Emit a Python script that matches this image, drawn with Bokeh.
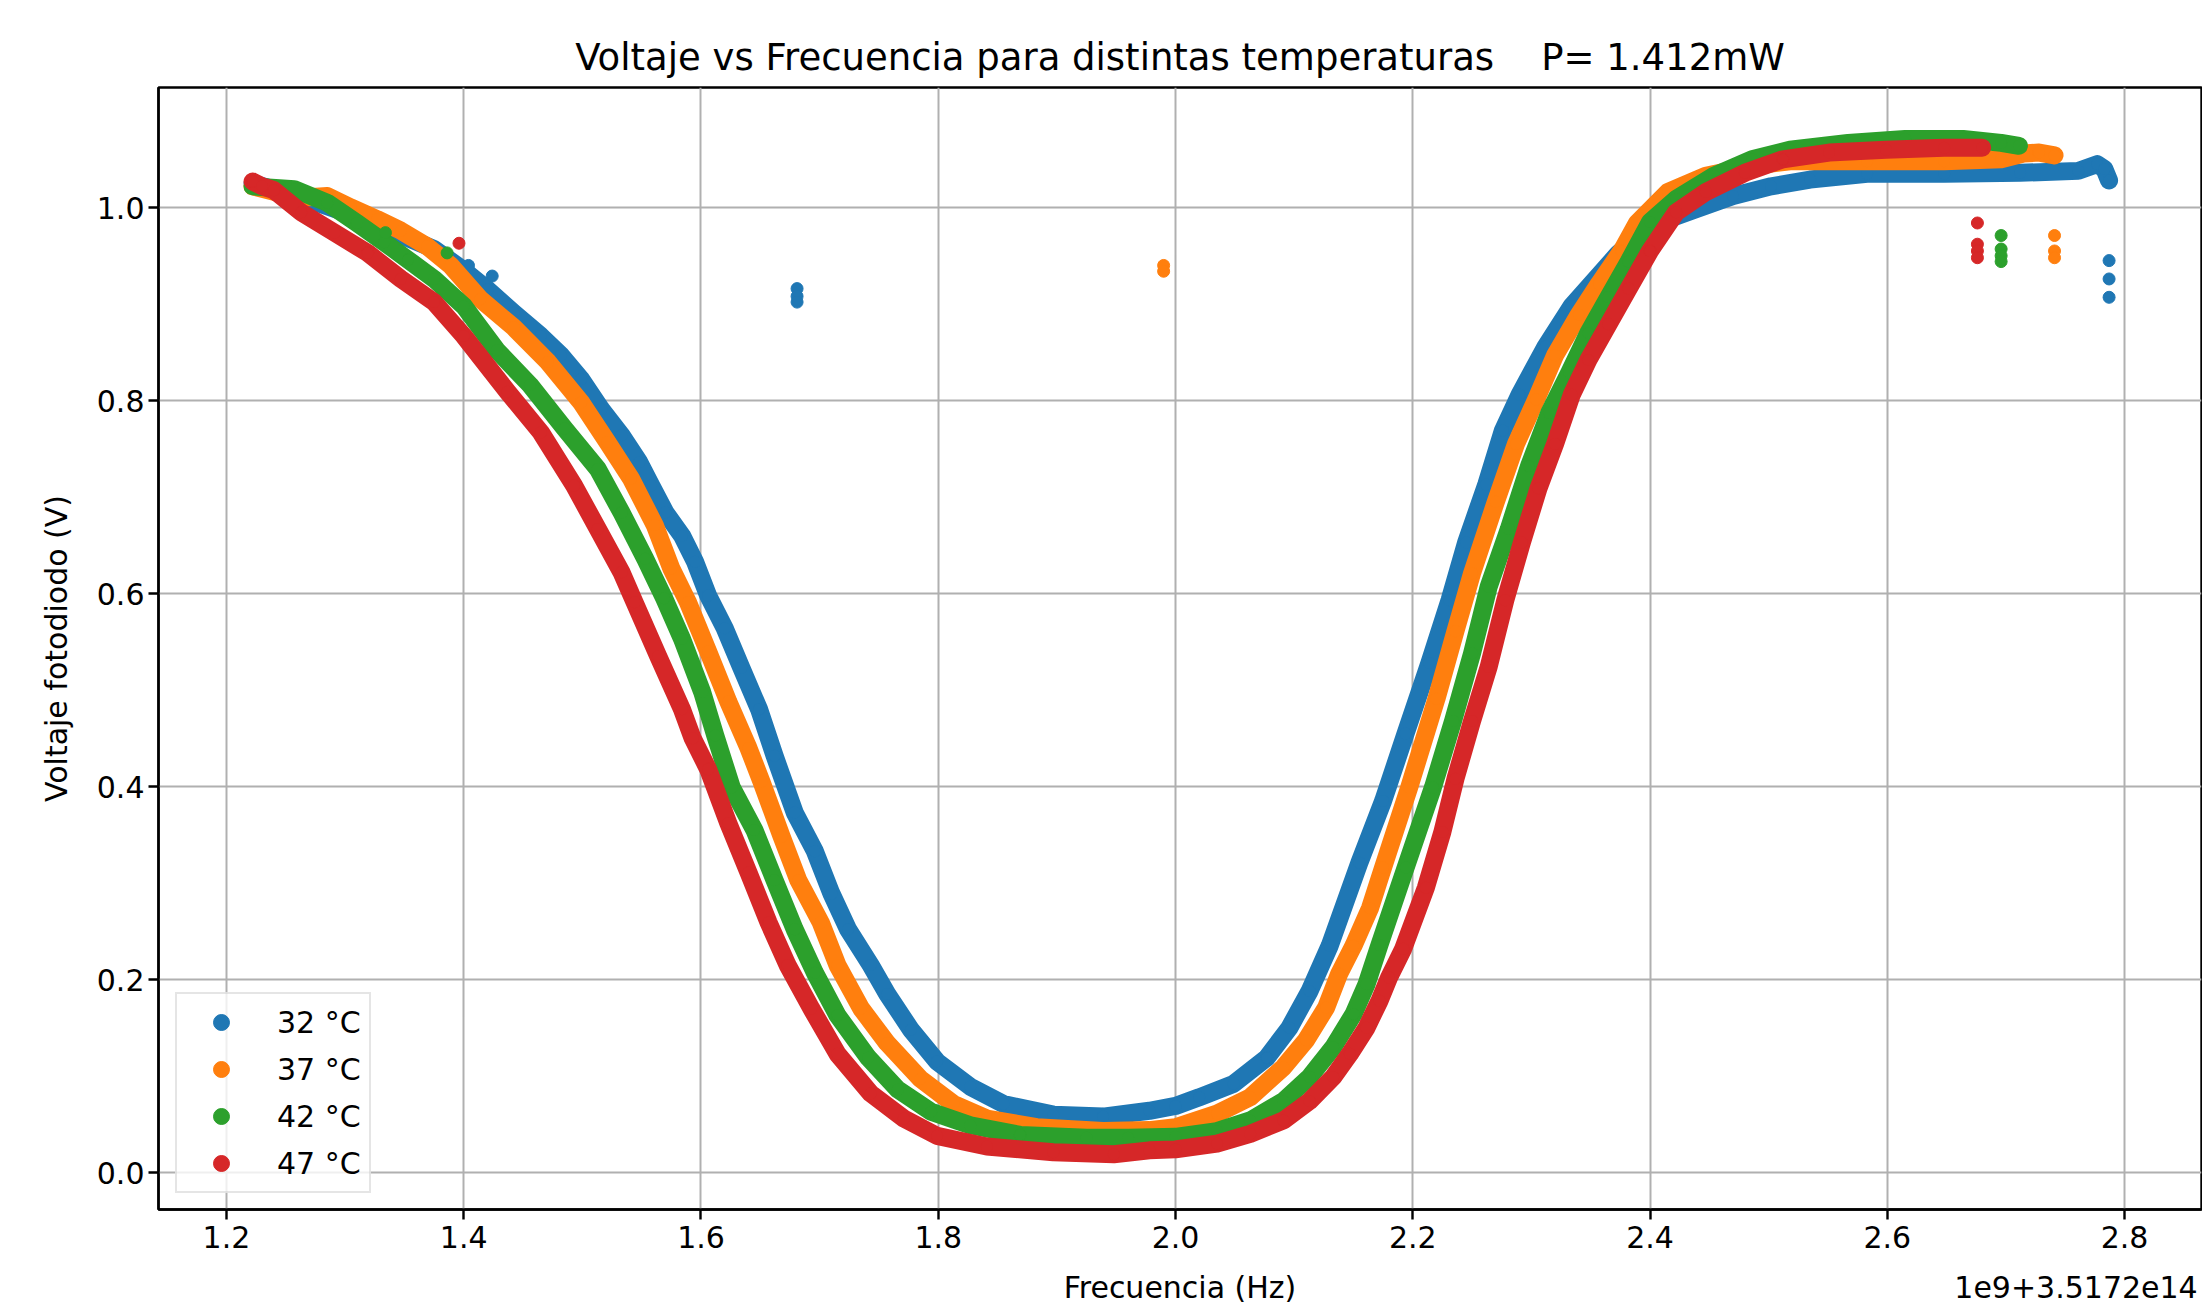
from bokeh.plotting import figure
from bokeh.models import Range1d, FixedTicker, Legend, LegendItem, LinearAxis, NumeralTickFormatter
from bokeh.embed import file_html
from bokeh.resources import INLINE

# ---------------- texts ----------------
title_text = "Voltaje vs Frecuencia para distintas temperaturas" + "\u00a0" * 4 + "P= 1.412mW"
x_label = "Frecuencia (Hz)"
y_label = "Voltaje fotodiodo (V)"
offset_text = "1e9+3.5172e14"
series_labels = ["32 °C", "37 °C", "42 °C", "47 °C"]
x_ticks = [1.2, 1.4, 1.6, 1.8, 2.0, 2.2, 2.4, 2.6, 2.8]
y_ticks = [0.0, 0.2, 0.4, 0.6, 0.8, 1.0]

# ---------------- data (frequency offset from 3.5172e14 Hz, in units of 1e9 Hz) ----------------
f_32 = [1.222, 1.26, 1.30, 1.34, 1.375, 1.40, 1.42, 1.442, 1.465, 1.482, 1.499, 1.516, 1.533, 1.548,
        1.558, 1.570, 1.584, 1.595, 1.606, 1.620, 1.634, 1.649, 1.662, 1.679, 1.696, 1.710, 1.724,
        1.743, 1.757, 1.777, 1.799, 1.827, 1.855, 1.897, 1.939, 1.978, 2.000, 2.020, 2.049, 2.077,
        2.096, 2.113, 2.130, 2.155, 2.175, 2.194, 2.214, 2.231, 2.245, 2.262, 2.276, 2.290, 2.312,
        2.334, 2.357, 2.373, 2.400, 2.438, 2.470, 2.502, 2.535, 2.583, 2.648, 2.712, 2.761, 2.777,
        2.783, 2.787]
v_32 = [1.025, 1.012, 0.995, 0.975, 0.957, 0.935, 0.915, 0.891, 0.867, 0.847, 0.822, 0.791, 0.764, 0.736,
        0.712, 0.684, 0.660, 0.633, 0.598, 0.564, 0.523, 0.480, 0.432, 0.373, 0.333, 0.289, 0.252,
        0.215, 0.185, 0.148, 0.115, 0.089, 0.071, 0.060, 0.058, 0.064, 0.069, 0.078, 0.092, 0.119,
        0.150, 0.188, 0.235, 0.321, 0.385, 0.455, 0.528, 0.593, 0.653, 0.713, 0.769, 0.806, 0.856,
        0.898, 0.930, 0.952, 0.981, 0.998, 1.012, 1.022, 1.029, 1.035, 1.035, 1.036, 1.038, 1.045,
        1.040, 1.028]
f_32_out = [1.404, 1.424, 1.681, 1.681, 1.681, 2.787, 2.787, 2.787]
v_32_out = [0.940, 0.929, 0.916, 0.908, 0.902, 0.945, 0.926, 0.907]

f_37 = [1.222, 1.26, 1.285, 1.305, 1.327, 1.347, 1.369, 1.389, 1.414, 1.442, 1.471, 1.499, 1.521, 1.541,
        1.561, 1.575, 1.589, 1.606, 1.623, 1.640, 1.651, 1.668, 1.682, 1.701, 1.715, 1.735, 1.757,
        1.785, 1.813, 1.841, 1.883, 1.939, 1.978, 2.000, 2.035, 2.063, 2.091, 2.110, 2.127, 2.138,
        2.150, 2.164, 2.175, 2.197, 2.220, 2.236, 2.250, 2.270, 2.287, 2.304, 2.320, 2.340, 2.357,
        2.376, 2.389, 2.415, 2.447, 2.486, 2.518, 2.583, 2.648, 2.696, 2.715, 2.728, 2.741]
v_37 = [1.022, 1.010, 1.012, 1.000, 0.988, 0.976, 0.960, 0.940, 0.905, 0.876, 0.840, 0.798, 0.757, 0.719,
        0.671, 0.626, 0.591, 0.540, 0.488, 0.440, 0.405, 0.348, 0.303, 0.259, 0.215, 0.170, 0.134,
        0.097, 0.071, 0.056, 0.047, 0.043, 0.044, 0.047, 0.061, 0.078, 0.109, 0.137, 0.171, 0.206,
        0.235, 0.274, 0.316, 0.399, 0.491, 0.561, 0.621, 0.695, 0.755, 0.801, 0.847, 0.889, 0.921,
        0.955, 0.984, 1.016, 1.033, 1.043, 1.048, 1.048, 1.048, 1.050, 1.056, 1.057, 1.054]
f_37_out = [1.990, 1.990, 2.741, 2.741, 2.741]
v_37_out = [0.940, 0.934, 0.971, 0.955, 0.948]

f_42 = [1.222, 1.257, 1.285, 1.310, 1.333, 1.353, 1.375, 1.400, 1.428, 1.456, 1.485, 1.513, 1.533, 1.553,
        1.569, 1.584, 1.601, 1.612, 1.626, 1.645, 1.662, 1.679, 1.696, 1.715, 1.741, 1.766, 1.794,
        1.827, 1.869, 1.925, 1.960, 2.000, 2.035, 2.063, 2.091, 2.113, 2.133, 2.150, 2.161, 2.172,
        2.194, 2.217, 2.234, 2.250, 2.264, 2.281, 2.298, 2.315, 2.332, 2.348, 2.365, 2.382, 2.400,
        2.422, 2.454, 2.486, 2.518, 2.567, 2.615, 2.664, 2.696, 2.711]
v_42 = [1.022, 1.019, 1.005, 0.984, 0.964, 0.946, 0.926, 0.898, 0.852, 0.816, 0.771, 0.729, 0.684, 0.636,
        0.595, 0.553, 0.498, 0.453, 0.399, 0.355, 0.303, 0.252, 0.207, 0.163, 0.119, 0.086, 0.063,
        0.049, 0.039, 0.036, 0.036, 0.037, 0.043, 0.054, 0.074, 0.099, 0.130, 0.164, 0.195, 0.236,
        0.316, 0.399, 0.468, 0.538, 0.607, 0.667, 0.732, 0.787, 0.829, 0.870, 0.907, 0.944, 0.985,
        1.009, 1.033, 1.050, 1.060, 1.067, 1.071, 1.071, 1.067, 1.064]
f_42_out = [1.334, 1.386, 2.696, 2.696, 2.696, 2.696]
v_42_out = [0.974, 0.953, 0.971, 0.957, 0.950, 0.944]

f_47 = [1.222, 1.230, 1.240, 1.263, 1.291, 1.319, 1.347, 1.375, 1.400, 1.437, 1.465, 1.493, 1.513, 1.533,
        1.544, 1.564, 1.584, 1.593, 1.606, 1.623, 1.640, 1.657, 1.673, 1.693, 1.715, 1.743, 1.771,
        1.799, 1.841, 1.897, 1.948, 1.978, 2.000, 2.035, 2.063, 2.091, 2.113, 2.133, 2.147, 2.161,
        2.172, 2.180, 2.192, 2.211, 2.225, 2.236, 2.250, 2.264, 2.278, 2.292, 2.306, 2.320, 2.334,
        2.348, 2.365, 2.382, 2.400, 2.422, 2.447, 2.480, 2.512, 2.551, 2.599, 2.648, 2.680]
v_47 = [1.027, 1.022, 1.018, 0.995, 0.974, 0.953, 0.926, 0.902, 0.867, 0.809, 0.767, 0.712, 0.667, 0.622,
        0.591, 0.535, 0.480, 0.450, 0.418, 0.362, 0.311, 0.259, 0.215, 0.170, 0.123, 0.082, 0.056,
        0.038, 0.027, 0.021, 0.019, 0.023, 0.024, 0.030, 0.040, 0.054, 0.074, 0.099, 0.123, 0.150,
        0.178, 0.202, 0.232, 0.295, 0.353, 0.408, 0.468, 0.524, 0.593, 0.653, 0.709, 0.755, 0.806,
        0.842, 0.879, 0.916, 0.955, 0.995, 1.016, 1.036, 1.050, 1.057, 1.060, 1.062, 1.062]
f_47_out = [1.396, 2.676, 2.676, 2.676, 2.676]
v_47_out = [0.963, 0.984, 0.962, 0.955, 0.948]

colors = ["#1f77b4", "#ff7f0e", "#2ca02c", "#d62728"]
series = [
    (f_32, v_32, f_32_out, v_32_out),
    (f_37, v_37, f_37_out, v_37_out),
    (f_42, v_42, f_42_out, v_42_out),
    (f_47, v_47, f_47_out, v_47_out),
]

FONT = "DejaVu Sans"
X_MIN, X_MAX = 1.1427, 2.8649

p = figure(width=2202, height=1312, output_backend="svg", toolbar_location=None,
           x_range=Range1d(X_MIN, X_MAX), y_range=Range1d(-0.0383, 1.1244),
           min_border_left=158, min_border_right=1, min_border_top=87, min_border_bottom=103)
p.background_fill_color = "white"
p.border_fill_color = "white"
p.outline_line_color = "black"
p.outline_line_width = 2.4

p.title.text = title_text
p.title.text_font = FONT
p.title.text_font_size = "37px"
p.title.text_font_style = "normal"
p.title.text_color = "black"
p.title.align = "center"
p.title.standoff = 18

for ax in (p.xaxis[0], p.yaxis[0]):
    ax.axis_line_color = "black"
    ax.axis_line_width = 2.4
    ax.major_tick_line_color = "black"
    ax.major_tick_line_width = 2.4
    ax.major_tick_out = 10
    ax.major_tick_in = 0
    ax.minor_tick_line_color = None
    ax.major_label_text_font = FONT
    ax.major_label_text_font_size = "30px"
    ax.major_label_text_color = "black"
    ax.axis_label_text_font = FONT
    ax.axis_label_text_font_size = "30px"
    ax.axis_label_text_font_style = "normal"
    ax.axis_label_text_color = "black"
    ax.formatter = NumeralTickFormatter(format="0.0")

p.xaxis.ticker = FixedTicker(ticks=x_ticks)
p.yaxis.ticker = FixedTicker(ticks=y_ticks)
p.yaxis.axis_label = y_label
p.xaxis.major_label_standoff = 6
p.yaxis.major_label_standoff = 4
p.yaxis.axis_label_standoff = 20

# second, bare bottom axis: carries the x label (centred on the frame) and the
# matplotlib-style offset text (right-aligned to the frame edge) on one row
frame_w_px = 2043.0
label_centre = (X_MIN + X_MAX) / 2
offset_w_px = 243.0
offset_centre = X_MAX - (4 + offset_w_px / 2) / frame_w_px * (X_MAX - X_MIN)
lab_axis = LinearAxis(ticker=FixedTicker(ticks=[label_centre, offset_centre]),
                      major_label_overrides={label_centre: x_label, offset_centre: offset_text})
lab_axis.axis_line_color = None
lab_axis.major_tick_line_color = None
lab_axis.minor_tick_line_color = None
lab_axis.major_tick_out = 0
lab_axis.major_tick_in = 0
lab_axis.major_label_standoff = 19
lab_axis.major_label_text_font = FONT
lab_axis.major_label_text_font_size = "30px"
lab_axis.major_label_text_color = "black"
p.add_layout(lab_axis, "below")

p.grid.grid_line_color = "#b0b0b0"
p.grid.grid_line_width = 2
p.xgrid.ticker = FixedTicker(ticks=x_ticks)
p.ygrid.ticker = FixedTicker(ticks=y_ticks)

items = []
for (fx, vy, fo, vo), c, lab in zip(series, colors, series_labels):
    p.line(fx, vy, line_color=c, line_width=18, line_cap="round", line_join="round")
    sc = p.scatter(fx, vy, size=12, fill_color=c, line_color=c)
    p.scatter(fo, vo, size=12, fill_color=c, line_color=c)
    items.append(LegendItem(label=lab, renderers=[sc]))

legend = Legend(items=items, location=(17, 16))
legend.label_text_font = FONT
legend.label_text_font_size = "30px"
legend.label_text_color = "black"
legend.glyph_width = 72
legend.glyph_height = 40
legend.label_height = 40
legend.label_standoff = 20
legend.spacing = 7
legend.padding = 8
legend.margin = 0
legend.border_line_color = "#cccccc"
legend.border_line_width = 2
legend.background_fill_color = "white"
legend.background_fill_alpha = 0.8
p.add_layout(legend, "center")

open("out.html", "w").write(file_html(p, INLINE))
